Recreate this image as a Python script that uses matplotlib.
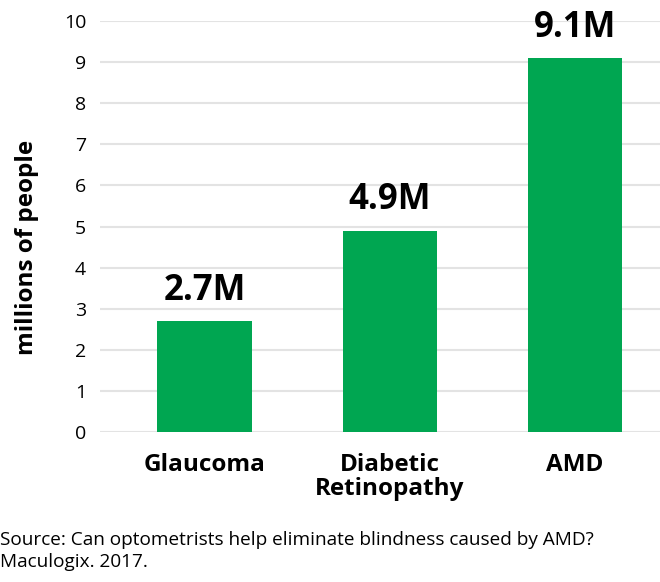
import matplotlib.pyplot as plt

plt.rcParams['font.family'] = ['Open Sans', 'DejaVu Sans']

categories = ['Glaucoma', 'Diabetic\nRetinopathy', 'AMD']
values = [2.7, 4.9, 9.1]
labels = ['2.7M', '4.9M', '9.1M']
green = '#00a651'

fig = plt.figure(figsize=(6.6, 5.82), dpi=100)
ax = fig.add_axes([0.1515, 0.2577, 0.8485, 0.7062])

x = range(len(values))
ax.bar(x, values, width=0.51, color=green, zorder=3)
for i, v in enumerate(values):
    ax.text(i, v + 0.3, labels[i], ha='center', va='bottom',
            fontsize=25, fontweight='bold', color='black')

ax.set_ylim(0, 10)
ax.set_xlim(-0.565, 2.46)
ax.set_yticks(range(0, 11))
ax.yaxis.grid(True, color='#e3e3e3', linewidth=1.5, zorder=0)
ax.set_xticks(list(x))
ax.set_xticklabels(categories, fontsize=17.5, fontweight='bold', linespacing=1.0)
ax.tick_params(axis='y', length=0, pad=10, labelsize=14)
ax.tick_params(axis='x', length=0, pad=15)
for s in ax.spines.values():
    s.set_visible(False)

fig.text(27 / 660, 1 - 247 / 582, 'millions of people', rotation=90,
         ha='center', va='center', fontsize=17.5, fontweight='bold')
fig.text(0.0, 1 - 551 / 582,
         'Source: Can optometrists help eliminate blindness caused by AMD?\nMaculogix. 2017.',
         ha='left', va='center', fontsize=13.7, linespacing=1.35)

fig.savefig('out.png', dpi=100)
